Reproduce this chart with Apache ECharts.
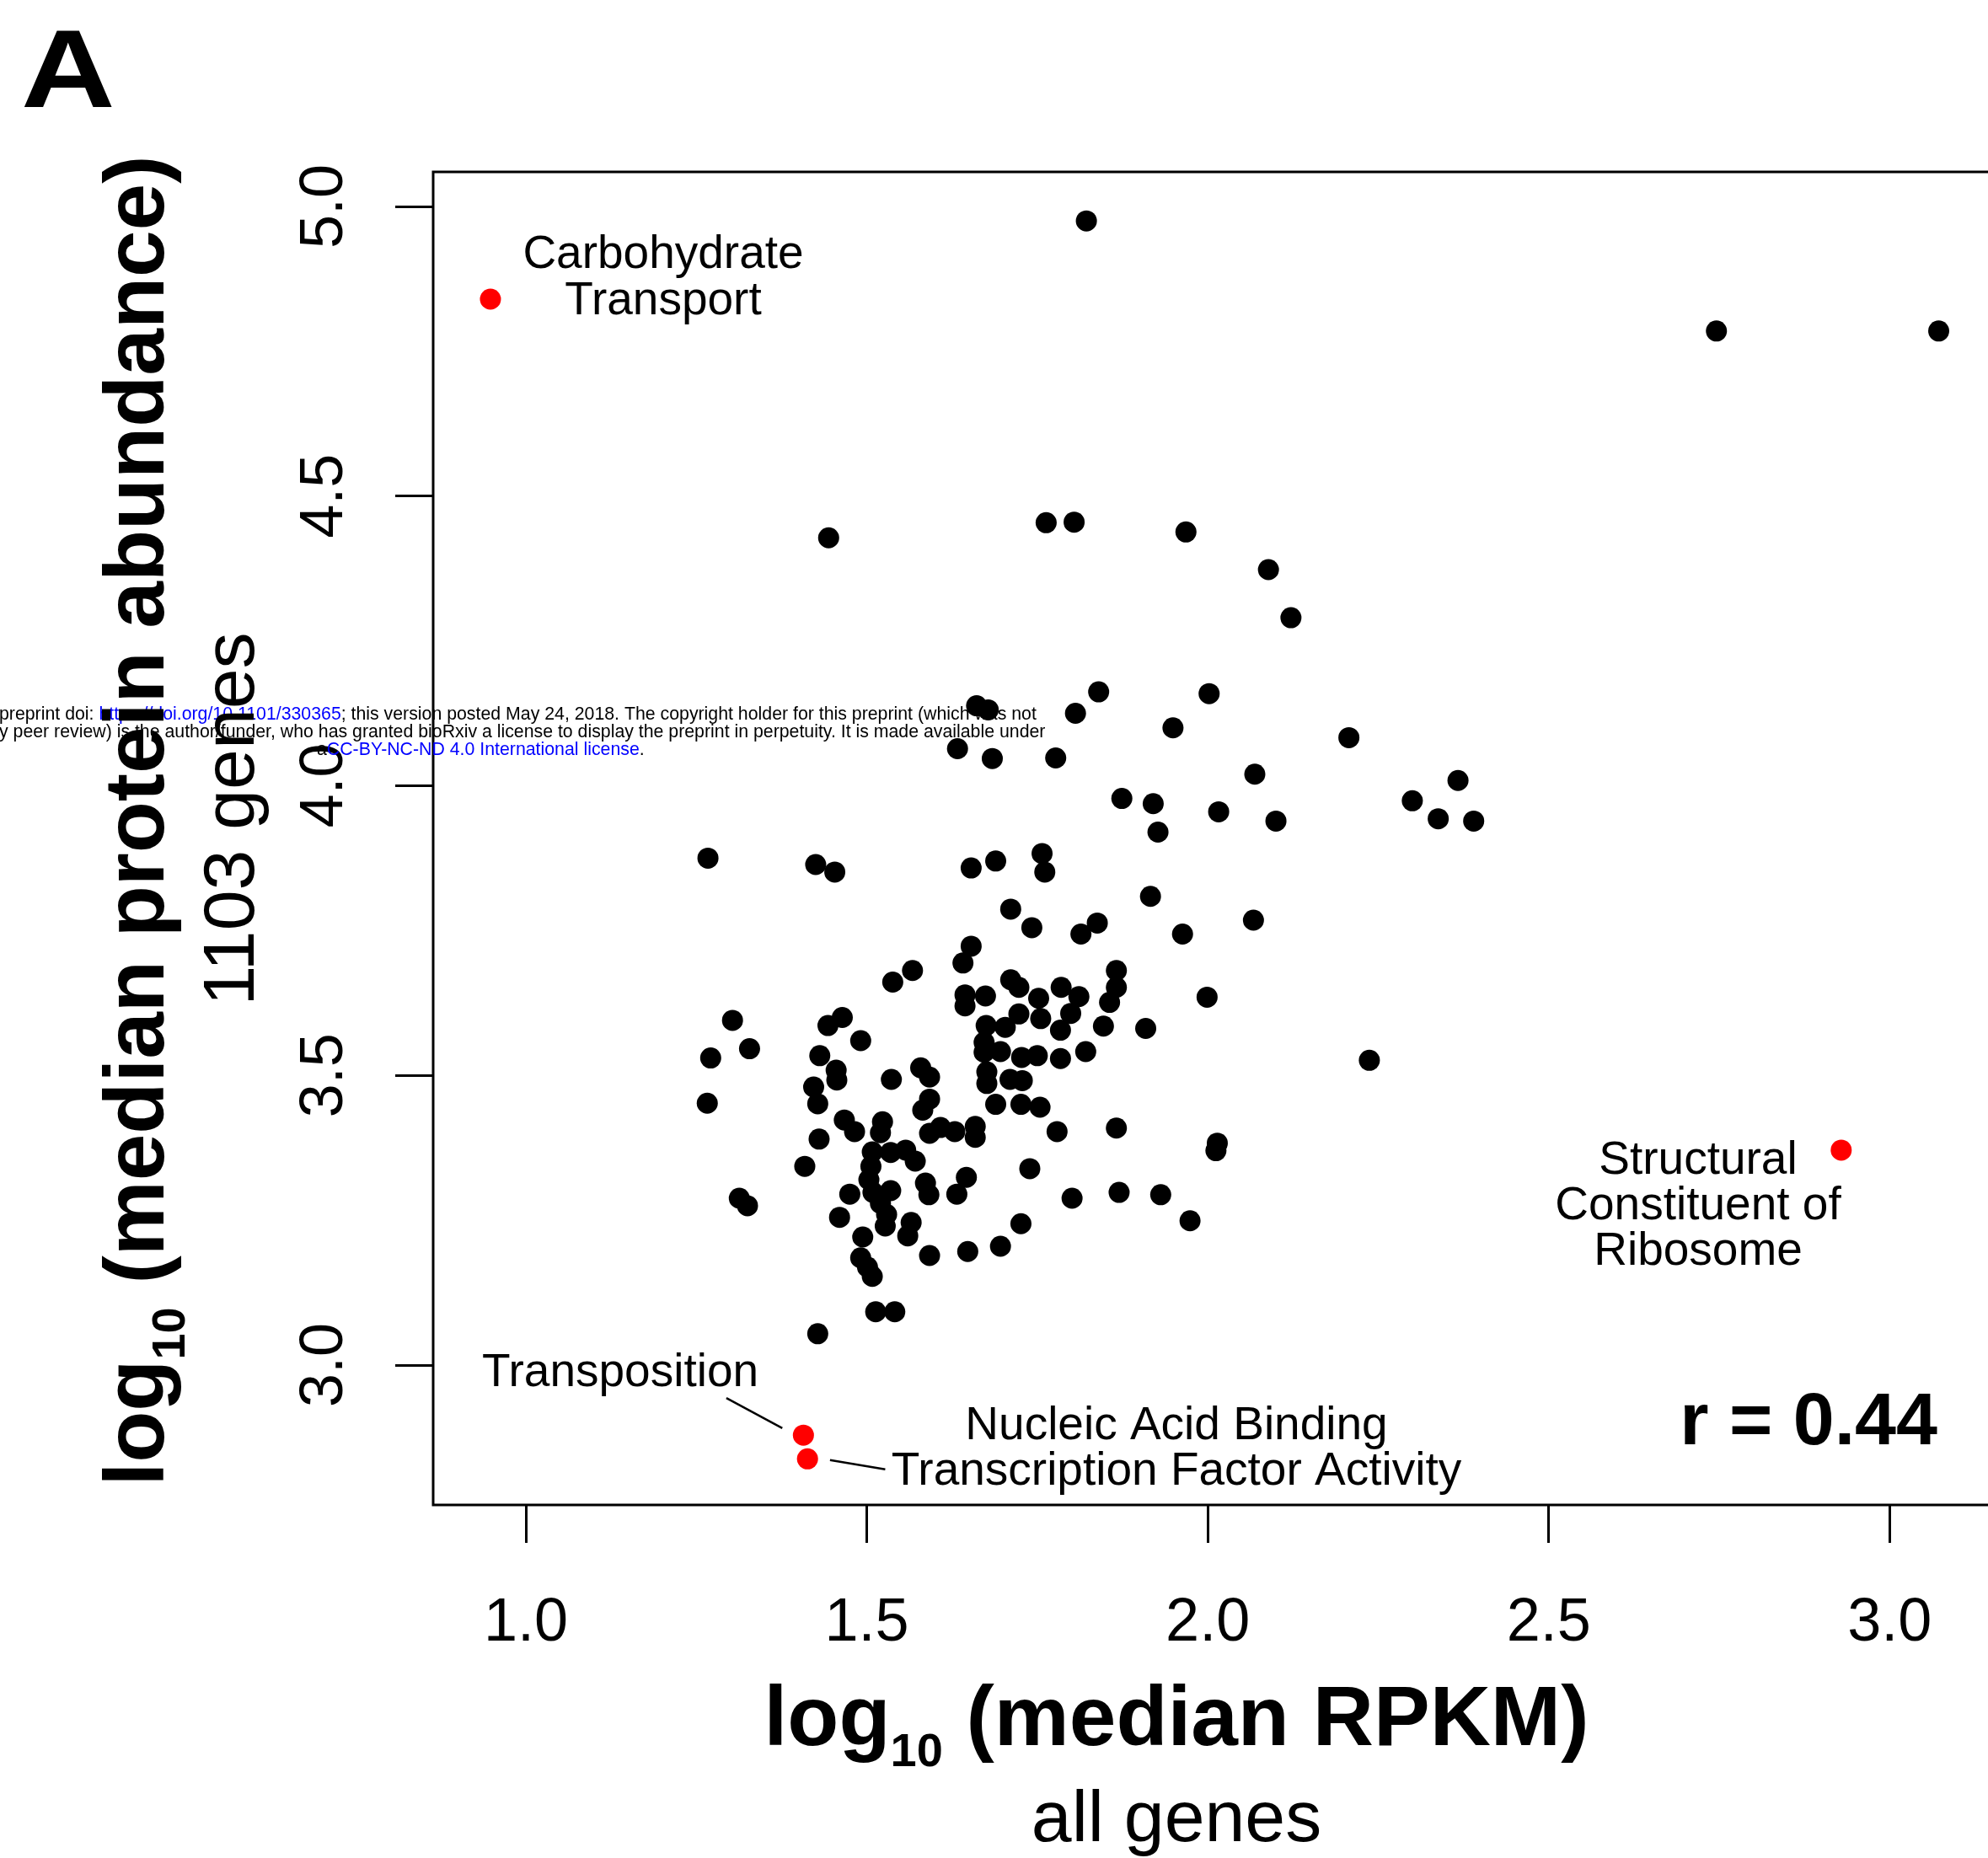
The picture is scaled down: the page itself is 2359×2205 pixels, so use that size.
<!DOCTYPE html>
<html>
<head>
<meta charset="utf-8">
<script src="https://cdn.jsdelivr.net/npm/echarts@6/dist/echarts.min.js"></script>
<title>protein abundance vs RPKM</title>
<style>html,body{margin:0;padding:0;background:#fff;}</style>
</head>
<body>
<div id="container" style="width:2359px;height:2205px;"></div>
<script>
// tick positions
var xTicks = [1.0, 1.5, 2.0, 2.5, 3.0];
var yTicks = [3.0, 3.5, 4.0, 4.5, 5.0];

// GO terms: [log10 median RPKM, log10 median protein abundance]
var termPoints = [
  [1.822, 4.975], [2.746, 4.785], [3.072, 4.785], [1.444, 4.428], [1.763, 4.454],
  [1.804, 4.455], [1.968, 4.438], [2.089, 4.373], [2.122, 4.290], [1.840, 4.162],
  [2.002, 4.159], [2.207, 4.083], [1.661, 4.138], [1.678, 4.131], [1.806, 4.125],
  [1.949, 4.100], [1.633, 4.064], [1.684, 4.047], [1.777, 4.048], [2.069, 4.020],
  [2.367, 4.009], [1.874, 3.978], [1.920, 3.969], [2.016, 3.955], [2.300, 3.974],
  [2.338, 3.943], [2.390, 3.939], [2.100, 3.939], [1.927, 3.920],
  [1.267, 3.875], [1.425, 3.864], [1.453, 3.851], [1.653, 3.858], [1.689, 3.870],
  [1.757, 3.883], [1.761, 3.851], [1.916, 3.809], [2.067, 3.768], [1.711, 3.787],
  [1.742, 3.755], [1.814, 3.744], [1.838, 3.763], [1.963, 3.744], [1.653, 3.723],
  [1.641, 3.694], [1.567, 3.681], [1.538, 3.661], [1.866, 3.681], [1.866, 3.652],
  [1.856, 3.626], [1.847, 3.585], [1.999, 3.635], [1.909, 3.581], [1.711, 3.665],
  [1.723, 3.652], [1.785, 3.652], [1.811, 3.636], [1.752, 3.633], [1.644, 3.639],
  [1.644, 3.620], [1.674, 3.637], [1.723, 3.606], [1.755, 3.598], [1.799, 3.607],
  [1.784, 3.578], [1.675, 3.586], [1.703, 3.583], [1.672, 3.557], [1.672, 3.540],
  [1.696, 3.541], [1.727, 3.531], [1.750, 3.534], [1.784, 3.529], [1.821, 3.541],
  [1.579, 3.513], [1.592, 3.497], [1.536, 3.493], [1.676, 3.506], [1.676, 3.486],
  [1.710, 3.493], [1.728, 3.491], [1.592, 3.459], [1.582, 3.440], [1.689, 3.450],
  [1.726, 3.450], [1.754, 3.445], [1.779, 3.403], [1.866, 3.409], [2.014, 3.383],
  [2.012, 3.370], [2.237, 3.526], [1.739, 3.339], [1.801, 3.288], [1.870, 3.298],
  [1.931, 3.294], [1.974, 3.249], [1.726, 3.244], [1.696, 3.205], [1.648, 3.196],
  [1.592, 3.189], [1.513, 3.092], [1.541, 3.092], [1.428, 3.054],
  [1.303, 3.595], [1.328, 3.546], [1.271, 3.530], [1.266, 3.452], [1.313, 3.288],
  [1.325, 3.275], [1.443, 3.586], [1.464, 3.600], [1.491, 3.560], [1.431, 3.534],
  [1.455, 3.509], [1.456, 3.492], [1.422, 3.480], [1.428, 3.451], [1.467, 3.423],
  [1.482, 3.403], [1.523, 3.420], [1.520, 3.401], [1.430, 3.390], [1.409, 3.343],
  [1.592, 3.400], [1.608, 3.410], [1.629, 3.403], [1.659, 3.412], [1.659, 3.393],
  [1.508, 3.368], [1.535, 3.367], [1.557, 3.371], [1.571, 3.352], [1.506, 3.343],
  [1.503, 3.320], [1.509, 3.298], [1.535, 3.301], [1.520, 3.279], [1.529, 3.260],
  [1.527, 3.240], [1.586, 3.314], [1.591, 3.294], [1.646, 3.324], [1.632, 3.295],
  [1.475, 3.295], [1.460, 3.255], [1.565, 3.246], [1.560, 3.223], [1.494, 3.221],
  [1.491, 3.185], [1.501, 3.169], [1.508, 3.153]
];

// highlighted terms (red)
var highlightNames = ['Carbohydrate Transport', 'Transposition',
  'Nucleic Acid Binding Transcription Factor Activity', 'Structural Constituent of Ribosome'];
var highlightPoints = [[0.948, 4.840], [1.407, 2.879], [1.413, 2.838], [2.929, 3.371]];

// label leader lines
var leaderTransposition = [[1.294, 2.943], [1.376, 2.891]];
var leaderNucleic = [[1.446, 2.836], [1.527, 2.820]];

var FONT = 'Liberation Sans, Arial, Helvetica, sans-serif';

var myChart = echarts.init(document.getElementById('container'));

function plainText(x, y, text, size, opts) {
  opts = opts || {};
  return {
    type: 'text', x: x, y: y, rotation: opts.rotation || 0, scaleX: opts.scaleX || 1, z: 10,
    style: {
      text: text, fill: '#000', fontFamily: FONT, fontSize: size,
      fontWeight: opts.bold ? 'bold' : 'normal',
      lineHeight: opts.lineHeight || size,
      align: opts.align || 'center', verticalAlign: 'middle'
    }
  };
}

function logTitle(x, y, rest, rotation) {
  return {
    type: 'text', x: x, y: y, rotation: rotation, z: 10,
    style: {
      text: '{m|log}{s|10}{m| ' + rest + '}',
      align: 'center', verticalAlign: 'middle',
      rich: {
        m: { fontFamily: FONT, fontSize: 100, fontWeight: 'bold', lineHeight: 100, fill: '#000' },
        s: { fontFamily: FONT, fontSize: 56, fontWeight: 'bold', lineHeight: 56, padding: [75, 0, 0, 0], fill: '#000' }
      }
    }
  };
}

// bioRxiv notice printed across the figure
function noticeLine(x, y, parts) {
  return {
    type: 'text', x: x, y: y, z: 1,
    style: {
      text: parts, align: 'left', verticalAlign: 'middle',
      rich: {
        k: { fontFamily: FONT, fontSize: 21.3, fill: '#000' },
        b: { fontFamily: FONT, fontSize: 21.3, fill: '#0000ff' }
      }
    }
  };
}

var option = {
  animation: false,
  backgroundColor: '#fff',
  grid: {
    left: 514, top: 204, right: -20, bottom: 419,
    show: true, borderColor: '#000', borderWidth: 3,
    outerBoundsMode: 'none'
  },
  xAxis: {
    type: 'value', min: 0.864, max: 3.169,
    axisLine: { show: false },
    splitLine: { show: false },
    axisTick: { show: true, customValues: xTicks, length: 45, lineStyle: { color: '#000', width: 3 } },
    axisLabel: {
      customValues: xTicks, margin: 105, fontSize: 72, color: '#000', fontFamily: FONT,
      formatter: function (v) { return v.toFixed(1); }
    }
  },
  yAxis: {
    type: 'value', min: 2.7585, max: 5.0596,
    axisLine: { show: false },
    splitLine: { show: false },
    axisTick: { show: true, customValues: yTicks, length: 45, lineStyle: { color: '#000', width: 3 } },
    axisLabel: {
      customValues: yTicks, margin: 92, rotate: 90, fontSize: 72, color: '#000', fontFamily: FONT,
      formatter: function (v) { return v.toFixed(1); }
    }
  },
  series: [
    {
      type: 'scatter', data: termPoints, symbolSize: 25, z: 2,
      itemStyle: { color: '#000', opacity: 1 }
    },
    {
      type: 'scatter', name: 'highlighted', z: 3, symbolSize: 25,
      data: highlightPoints.map(function (p, i) { return { name: highlightNames[i], value: p }; }),
      itemStyle: { color: '#ff0000', opacity: 1 }
    },
    {
      type: 'line', data: leaderTransposition, symbol: 'none', z: 1,
      lineStyle: { color: '#000', width: 2.5 }
    },
    {
      type: 'line', data: leaderNucleic, symbol: 'none', z: 1,
      lineStyle: { color: '#000', width: 2.5 }
    }
  ],
  graphic: [
    plainText(25, 91, 'A', 131, { bold: true, align: 'left', scaleX: 1.18 }),
    logTitle(166, 974, '(median protein abundance)', Math.PI / 2),
    plainText(277, 972, '1103 genes', 86, { rotation: Math.PI / 2 }),
    logTitle(1396, 2043, '(median RPKM)', 0),
    plainText(1396, 2161, 'all genes', 86),
    plainText(787, 330, 'Carbohydrate\nTransport', 55, { lineHeight: 55 }),
    plainText(736, 1630, 'Transposition', 55),
    plainText(1396, 1720, 'Nucleic Acid Binding\nTranscription Factor Activity', 55, { lineHeight: 54 }),
    plainText(2015, 1432, 'Structural\nConstituent of\nRibosome', 55, { lineHeight: 54 }),
    plainText(2299, 1690, 'r = 0.44', 88, { bold: true, align: 'right' }),
    noticeLine(-1, 848, '{k|preprint doi: }{b|https://doi.org/10.1101/330365}{k|; this version posted May 24, 2018. The copyright holder for this preprint (which was not}'),
    noticeLine(-1, 869, '{k|y peer review) is the author/funder, who has granted bioRxiv a license to display the preprint in perpetuity. It is made available under}'),
    noticeLine(376, 890, '{k|a}{b|CC-BY-NC-ND 4.0 International license}{k|.}')
  ]
};

myChart.setOption(option);
</script>
</body>
</html>
